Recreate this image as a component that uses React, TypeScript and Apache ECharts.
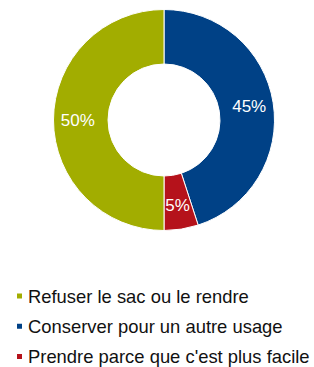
import React, { useEffect, useRef } from "react";
import * as echarts from "echarts";

const categories = [
  "Conserver pour un autre usage",
  "Prendre parce que c'est plus facile",
  "Refuser le sac ou le rendre",
];
const values = [45, 5, 50];
const colors = ["#004186", "#b5121b", "#a2ad00"];
const legendOrder = [
  "Refuser le sac ou le rendre",
  "Conserver pour un autre usage",
  "Prendre parce que c'est plus facile",
];

export default function App() {
  const ref = useRef<HTMLDivElement>(null);
  useEffect(() => {
    if (!ref.current) return;
    const chart = echarts.init(ref.current, null, { renderer: "svg" });
    chart.setOption({
      animation: false,
      color: colors,
      legend: {
        data: legendOrder,
        orient: "vertical",
        left: 15,
        top: 287,
        height: 120,
        width: 300,
        padding: 0,
        icon: "rect",
        itemWidth: 7,
        itemHeight: 7,
        itemGap: 12.2,
        textStyle: {
          fontFamily: "Liberation Sans, Arial, sans-serif",
          fontSize: 18.4,
          color: "#111",
        },
        selectedMode: false,
      },
      series: [
        {
          type: "pie",
          center: [164, 120],
          radius: [56, 110.5],
          startAngle: 90,
          clockwise: true,
          avoidLabelOverlap: false,
          itemStyle: { borderColor: "#fff", borderWidth: 1 },
          label: {
            show: true,
            position: "inside",
            formatter: "{c}%",
            color: "#fff",
            fontFamily: "Liberation Sans, Arial, sans-serif",
            fontSize: 17,
          },
          labelLine: { show: false },
          emphasis: { disabled: true },
          data: categories.map((name, i) => ({ name, value: values[i] })),
        },
      ],
    });
    return () => chart.dispose();
  }, []);
  return <div ref={ref} style={{ width: 314, height: 367, position: "absolute", left: 0, top: 0 }} />;
}
